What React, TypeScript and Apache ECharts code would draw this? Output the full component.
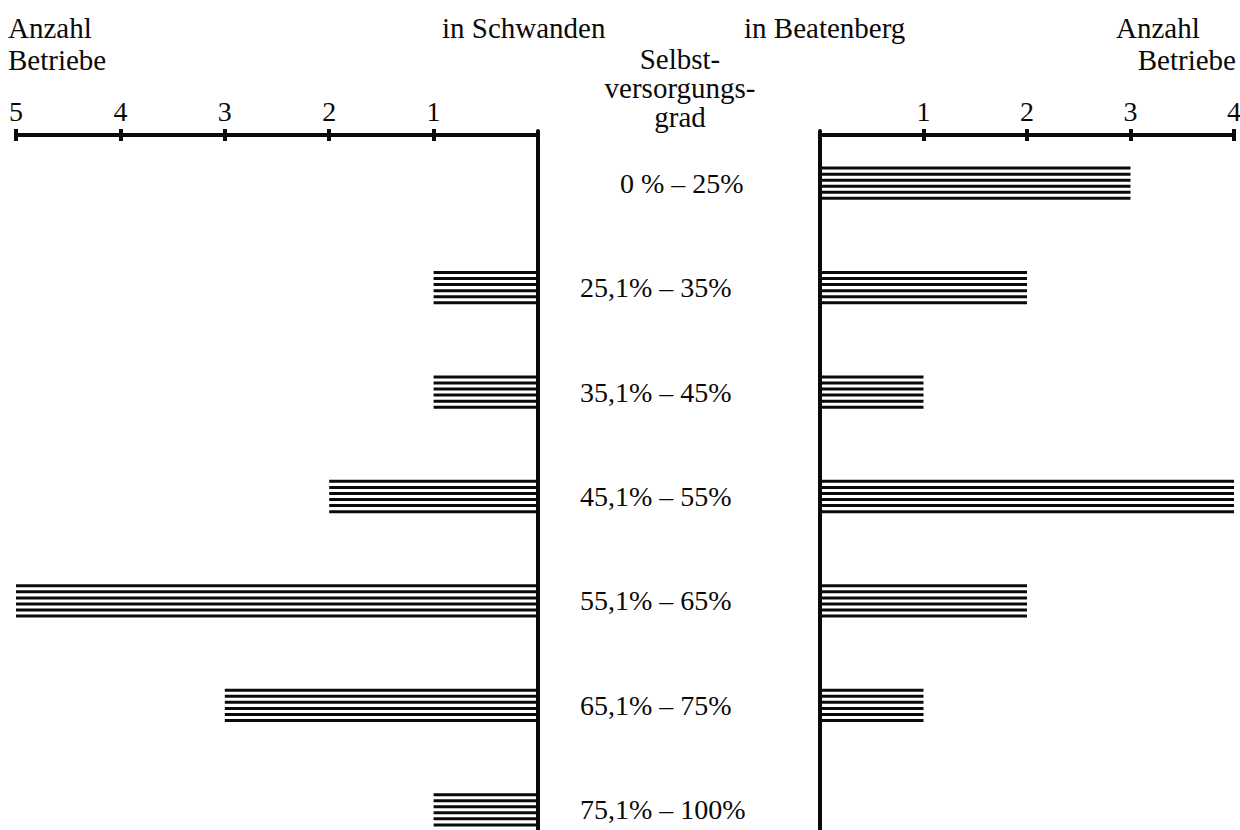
import React, { useEffect, useRef } from 'react';
import * as echarts from 'echarts';

const categories = ['0 % – 25%', '25,1% – 35%', '35,1% – 45%', '45,1% – 55%', '55,1% – 65%', '65,1% – 75%', '75,1% – 100%'];
const schwanden = [0, 1, 1, 2, 5, 3, 1];
const beatenberg = [3, 2, 1, 4, 2, 1, 0];
const schwandenTicks = [1, 2, 3, 4, 5];
const beatenbergTicks = [1, 2, 3, 4];

const FONT = '"Liberation Serif", "DejaVu Serif", serif';
const INK = '#0a0a0a';

function stripedBars(params: any, api: any) {
  const v = api.value(0);
  const c = api.value(1);
  if (!v) return { type: 'group', children: [] };
  const start = api.coord([0, c]);
  const end = api.coord([v, c]);
  const band = api.size([0, 1])[1];
  const h = band * 0.29;
  const n = 6;
  const children: any[] = [];
  for (let i = 0; i < n; i++) {
    const y = start[1] - h / 2 + (h * i) / (n - 1);
    children.push({
      type: 'line',
      shape: { x1: start[0], y1: y, x2: end[0], y2: y },
      style: { stroke: INK, lineWidth: 3 },
    });
  }
  return { type: 'group', children };
}

function valueAxis(grid: number, max: number, inverse: boolean, ticks: number[], main: boolean) {
  return {
    type: 'value',
    gridIndex: grid,
    min: 0,
    max,
    inverse,
    position: 'top',
    offset: -4,
    splitLine: { show: false },
    axisLine: { show: main, lineStyle: { color: INK, width: 4 } },
    axisTick: {
      show: true,
      inside: !main,
      length: 6,
      customValues: ticks,
      lineStyle: { color: INK, width: 4 },
    },
    axisLabel: {
      show: main,
      customValues: ticks,
      margin: 10,
      color: INK,
      fontFamily: FONT,
      fontSize: 28,
    },
  };
}

export default function App() {
  const ref = useRef<HTMLDivElement>(null);
  useEffect(() => {
    if (!ref.current) return;
    const chart = echarts.init(ref.current, null, { renderer: 'svg' });
    const textStyle = (text: string, align: string, lh = 32) => ({
      text,
      font: `29px ${FONT}`,
      fill: INK,
      textAlign: align,
      textVerticalAlign: 'top',
      lineHeight: lh,
    });
    chart.setOption({
      animation: false,
      backgroundColor: '#fff',
      grid: [
        { left: 16, width: 522, top: 131, height: 731, outerBoundsMode: 'none' },
        { left: 820, width: 414, top: 131, height: 731, outerBoundsMode: 'none' },
      ],
      xAxis: [
        valueAxis(0, 5, true, schwandenTicks, true),
        valueAxis(0, 5, true, schwandenTicks, false),
        valueAxis(1, 4, false, beatenbergTicks, true),
        valueAxis(1, 4, false, beatenbergTicks, false),
      ],
      yAxis: [
        {
          type: 'category',
          gridIndex: 0,
          data: categories,
          inverse: true,
          position: 'right',
          axisLine: { show: true, lineStyle: { color: INK, width: 4 } },
          axisTick: { show: false },
          axisLabel: {
            align: 'left',
            margin: 42,
            color: INK,
            fontFamily: FONT,
            fontSize: 28,
            formatter: (v: string, i: number) => (i === 0 ? '{pad|}' + v : v),
            rich: { pad: { width: 40 } },
          },
        },
        {
          type: 'category',
          gridIndex: 1,
          data: categories,
          inverse: true,
          position: 'left',
          axisLine: { show: true, lineStyle: { color: INK, width: 4 } },
          axisTick: { show: false },
          axisLabel: { show: false },
        },
      ],
      series: [
        {
          type: 'custom',
          name: 'in Schwanden',
          xAxisIndex: 0,
          yAxisIndex: 0,
          renderItem: stripedBars,
          encode: { x: 0, y: 1 },
          data: schwanden.map((v, i) => [v, i]),
        },
        {
          type: 'custom',
          name: 'in Beatenberg',
          xAxisIndex: 2,
          yAxisIndex: 1,
          renderItem: stripedBars,
          encode: { x: 0, y: 1 },
          data: beatenberg.map((v, i) => [v, i]),
        },
      ],
      graphic: [
        { type: 'text', x: 8, y: 12, style: textStyle('Anzahl\nBetriebe', 'left') },
        { type: 'text', x: 442, y: 12, style: textStyle('in Schwanden', 'left') },
        { type: 'text', x: 744, y: 12, style: textStyle('in Beatenberg', 'left') },
        { type: 'text', x: 680, y: 44, style: textStyle('Selbst-\nversorgungs-\ngrad', 'center', 29) },
        { type: 'text', x: 1116, y: 12, style: textStyle('Anzahl', 'left') },
        { type: 'text', x: 1236, y: 44, style: textStyle('Betriebe', 'right') },
      ],
    });
    return () => chart.dispose();
  }, []);
  return (
    <div
      ref={ref}
      style={{ position: 'fixed', left: 0, top: 0, width: 1240, height: 830, background: '#fff' }}
    />
  );
}
